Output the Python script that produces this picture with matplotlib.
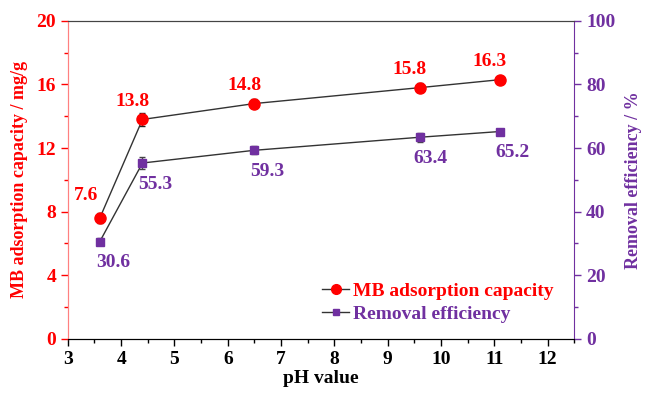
import matplotlib.pyplot as plt
from matplotlib.lines import Line2D
from matplotlib.ticker import MultipleLocator

plt.rcParams['font.family'] = ['Liberation Serif', 'DejaVu Serif']
plt.rcParams['font.weight'] = 'bold'

ph = [3.6, 4.4, 6.5, 9.6, 11.1]
capacidad = [7.6, 13.8, 14.8, 15.8, 16.3]
err_cap = [0.3, 0.4, 0.3, 0.3, 0.1]
remocion = [30.6, 55.3, 59.3, 63.4, 65.2]
err_rem = [1.2, 1.8, 1.3, 1.4, 0.4]

rojo = '#FF0000'
morado = '#7030A0'
fs = 14

fig = plt.figure(figsize=(6.46, 3.94), dpi=100)
ax = fig.add_axes([0.105, 0.14, 0.784, 0.807])
ax2 = ax.twinx()

ax.errorbar(ph, capacidad, yerr=err_cap, color='#333333', lw=1, marker='o',
            ms=8, mfc=rojo, mec=rojo, ecolor='#222222', elinewidth=1, capsize=2.5, zorder=3)
ax2.errorbar(ph, remocion, yerr=err_rem, color='#333333', lw=1, marker='s',
             ms=6, mfc=morado, mec=morado, ecolor='#444444', elinewidth=1, capsize=2.5, zorder=3)

ax.set_xlim(3, 12.5)
ax.set_ylim(0, 20)
ax2.set_ylim(0, 100)
ax.xaxis.set_major_locator(MultipleLocator(1))
ax.xaxis.set_minor_locator(MultipleLocator(0.5))
ax.yaxis.set_major_locator(MultipleLocator(4))
ax.yaxis.set_minor_locator(MultipleLocator(2))
ax2.yaxis.set_major_locator(MultipleLocator(20))
ax2.yaxis.set_minor_locator(MultipleLocator(10))

for a in (ax, ax2):
    a.tick_params(which='both', direction='out', labelsize=fs, width=1)
    a.tick_params(which='major', length=5)
    a.tick_params(which='minor', length=3)

ax.tick_params(axis='y', colors=rojo, which='both')
ax.tick_params(axis='x', colors='black', which='both')
ax2.tick_params(axis='y', colors=morado, which='both')
ax.spines['left'].set_color('#FF8080')
ax2.spines['left'].set_color('#FF8080')
ax2.spines['right'].set_color(morado)
ax.spines['top'].set_color('#444444')
ax2.spines['top'].set_color('#444444')
ax.spines['right'].set_visible(False)

ax.set_xlabel('pH value', fontsize=fs, fontweight='bold', labelpad=2)
ax.set_ylabel('MB adsorption capacity / mg/g', fontsize=13, fontweight='bold', color=rojo, labelpad=6)
ax2.set_ylabel('Removal efficiency / %', fontsize=13, fontweight='bold', color=morado, labelpad=7)

# etiquetas de valores
offs_cap = [(-10, 10), (-7, 7), (-7, 7), (-7, 7), (-7, 7)]
for x, y, o in zip(ph, capacidad, offs_cap):
    ax.annotate(f'{y}', (x, y), xytext=o, textcoords='offset points', ha='center',
                va='bottom', color=rojo, fontsize=fs, fontweight='bold')
offs_rem = [(10, -9), (9, -9), (9, -9), (8, -9), (9, -9)]
for x, y, o in zip(ph, remocion, offs_rem):
    ax2.annotate(f'{y}', (x, y), xytext=o, textcoords='offset points', ha='center',
                 va='top', color=morado, fontsize=fs, fontweight='bold')

h1 = Line2D([], [], color='#333333', lw=1, marker='o', ms=7, mfc=rojo, mec=rojo)
h2 = Line2D([], [], color='#333333', lw=1, marker='s', ms=5, mfc=morado, mec=morado)
leg = ax2.legend([h1, h2], ['MB adsorption capacity', 'Removal efficiency'],
                 loc='lower right', bbox_to_anchor=(0.99, 0.0), frameon=False,
                 fontsize=fs, handlelength=1.4, handletextpad=0.2, labelspacing=0.3,
                 borderaxespad=0.4)
for t, c in zip(leg.get_texts(), [rojo, morado]):
    t.set_color(c)
    t.set_fontweight('bold')

fig.savefig('out.png', dpi=100)
